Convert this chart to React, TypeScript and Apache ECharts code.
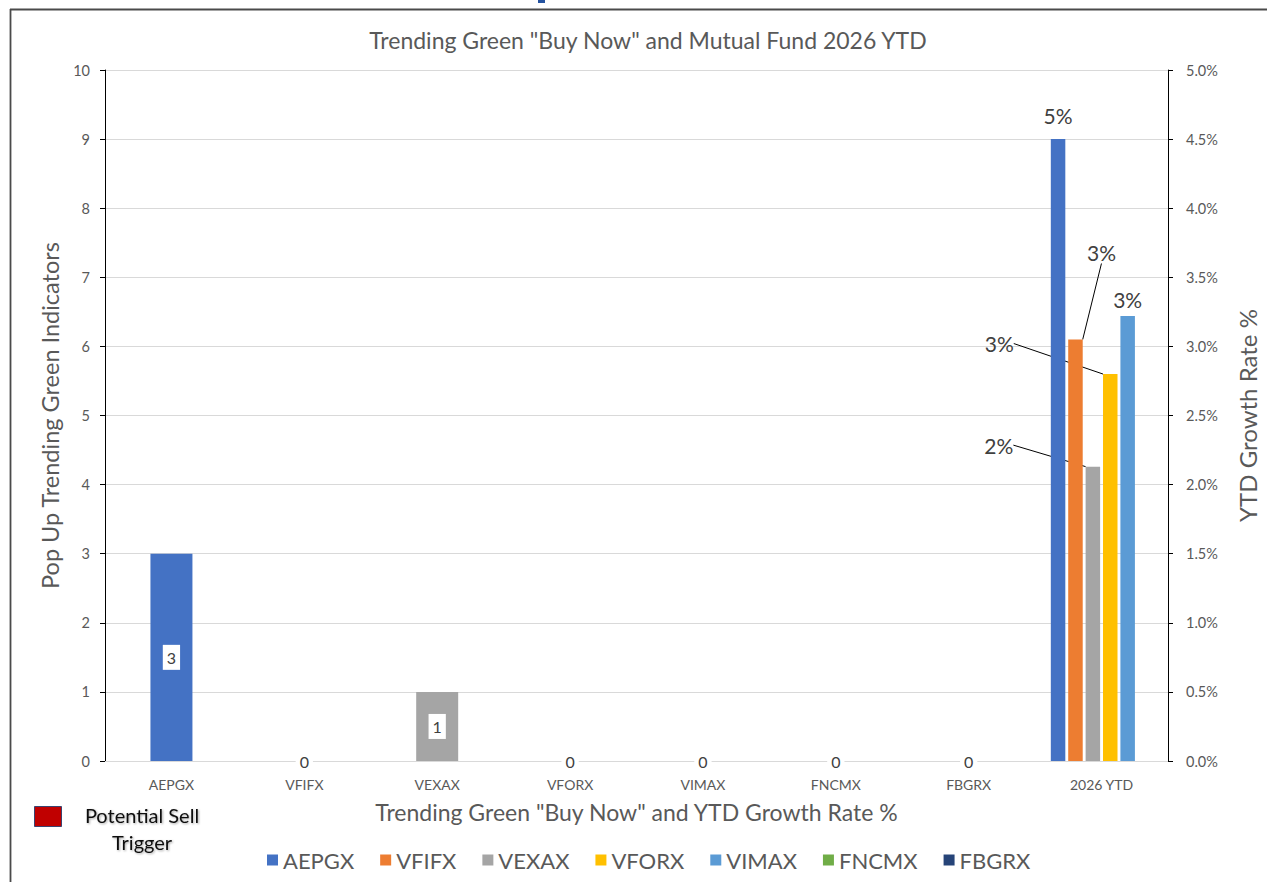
import React, { useEffect, useRef } from "react";
import * as echarts from "echarts";

const categories = ["AEPGX", "VFIFX", "VEXAX", "VFORX", "VIMAX", "FNCMX", "FBGRX", "2026 YTD"];
const funds = ["AEPGX", "VFIFX", "VEXAX", "VFORX", "VIMAX", "FNCMX", "FBGRX"];
const fundColors = ["#4472C4", "#ED7D31", "#A5A5A5", "#FFC000", "#5B9BD5", "#70AD47", "#264478"];
// Trending green indicators per fund (left axis)
const indicators = [3, 0, 1, 0, 0, 0, 0];
// 2026 YTD growth rate % per fund (right axis)
const ytdGrowth = [4.5, 3.05, 2.13, 2.8, 3.22, null, null];
const leftAxis = { min: 0, max: 10, interval: 1 };
const rightAxis = { min: 0, max: 5, interval: 0.5 };

const FONT = "Lato, 'Noto Sans', sans-serif";
const TXT = "#595959";

// label offsets for YTD labels (style only)
const ytdLabelLayout: any[] = [
  null,
  { dx: 26, dy: -71 },
  { dx: -94, dy: -6 },
  { dx: -111, dy: -15 },
  null,
  null,
];
const ytdLabelDistance = [13, 5, 5, 5, 6, 5];

export default function App() {
  const ref = useRef<HTMLDivElement>(null);
  useEffect(() => {
    if (!ref.current) return;
    const chart = echarts.init(ref.current, undefined, { renderer: "svg" });
    const n = categories.length;

    const indicatorSeries: any = {
      name: "Indicators",
      type: "bar",
      xAxisIndex: 0,
      yAxisIndex: 0,
      barWidth: 42,
      barGap: "-100%",
      data: categories.map((c, i) =>
        i < indicators.length ? { value: indicators[i], itemStyle: { color: fundColors[i] } } : "-"
      ),
      label: {
        show: true,
        position: "inside",
        backgroundColor: "#fff",
        padding: [5, 4, 4, 4],
        color: "#404040",
        fontSize: 16,
        fontFamily: FONT,
      },
    };

    const ytdSeries: any[] = [];
    for (let k = 0; k < 6; k++) {
      const v = ytdGrowth[k];
      const s: any = {
        name: funds[k],
        type: "bar",
        xAxisIndex: 1,
        yAxisIndex: 1,
        barWidth: 14.5,
        barGap: "20%",
        itemStyle: { color: fundColors[k] },
        data: categories.map((c, i) => (i === n - 1 && v != null ? v : "-")),
        label: {
          show: true,
          position: "top",
          distance: ytdLabelDistance[k],
          color: "#404040",
          fontSize: 21,
          fontFamily: FONT,
          formatter: (p: any) => Math.round(p.value) + "%",
        },
      };
      if (ytdLabelLayout[k]) {
        s.labelLayout = ytdLabelLayout[k];
        s.labelLine = { show: true, lineStyle: { color: "#000", width: 1 } };
      }
      ytdSeries.push(s);
    }
    const fbgrxSeries: any = {
      name: funds[6],
      type: "bar",
      xAxisIndex: 0,
      yAxisIndex: 0,
      barWidth: 42,
      barGap: "-100%",
      itemStyle: { color: fundColors[6] },
      data: categories.map(() => "-"),
    };

    chart.setOption({
      animation: false,
      textStyle: { fontFamily: FONT },
      title: {
        text: 'Trending Green "Buy Now" and Mutual Fund 2026 YTD',
        left: 643,
        textAlign: "center",
        top: 23,
        textStyle: { fontSize: 23, fontWeight: "normal", color: TXT, fontFamily: FONT },
      },
      grid: { left: 105, right: 99, top: 70, bottom: 121, containLabel: false },
      legend: {
        data: funds,
        bottom: 6,
        left: 262,
        icon: "rect",
        itemWidth: 11,
        itemHeight: 11,
        itemGap: 26,
        textStyle: { fontSize: 22, color: TXT, fontFamily: FONT },
      },
      xAxis: [
        {
          type: "category",
          data: categories,
          axisLine: { lineStyle: { color: "#d9d9d9" } },
          axisTick: { show: false },
          axisLabel: { color: TXT, fontSize: 14, margin: 16, fontFamily: FONT },
          name: 'Trending Green "Buy Now" and YTD Growth Rate %',
          nameLocation: "middle",
          nameGap: 39,
          nameTextStyle: { fontSize: 23, color: TXT, fontFamily: FONT },
        },
        {
          type: "category",
          data: categories,
          show: false,
        },
      ],
      yAxis: [
        {
          type: "value",
          min: leftAxis.min,
          max: leftAxis.max,
          interval: leftAxis.interval,
          axisLine: { show: true, lineStyle: { color: "#000" } },
          axisTick: { show: true, length: 5, lineStyle: { color: "#000" } },
          axisLabel: { color: TXT, fontSize: 14.5, margin: 15, fontFamily: FONT },
          splitLine: { show: true, lineStyle: { color: "#d9d9d9" } },
          name: "Pop Up Trending Green Indicators",
          nameLocation: "middle",
          nameGap: 41,
          nameTextStyle: { fontSize: 23.5, color: TXT, fontFamily: FONT },
        },
        {
          type: "value",
          min: rightAxis.min,
          max: rightAxis.max,
          interval: rightAxis.interval,
          position: "right",
          axisLine: { show: true, lineStyle: { color: "#000" } },
          axisTick: { show: true, length: 5, lineStyle: { color: "#000" } },
          axisLabel: {
            color: TXT,
            fontSize: 14.5,
            margin: 18,
            fontFamily: FONT,
            formatter: (v: number) => v.toFixed(1) + "%",
          },
          splitLine: { show: false },
          name: "YTD Growth Rate %",
          nameLocation: "middle",
          nameGap: 67,
          nameTextStyle: { fontSize: 24, color: TXT, fontFamily: FONT },
        },
      ],
      graphic: [
        { type: "line", shape: { x1: 10, y1: 9.5, x2: 1267, y2: 9.5 }, style: { stroke: "#4a4a4a", lineWidth: 1.8 } },
        { type: "line", shape: { x1: 10.5, y1: 9, x2: 10.5, y2: 882 }, style: { stroke: "#4a4a4a", lineWidth: 1.8 } },
        { type: "rect", shape: { x: 538, y: 0, width: 7, height: 3 }, style: { fill: "#2553a0" } },
        {
          type: "rect",
          shape: { x: 34.5, y: 806.5, width: 27, height: 20 },
          style: { fill: "#C00000", stroke: "#3a4470", lineWidth: 1 },
        },
        {
          type: "text",
          x: 142,
          y: 801,
          style: {
            text: "Potential Sell\nTrigger",
            fill: "#111",
            font: `20px ${FONT}`,
            textAlign: "center",
            lineHeight: 27,
            textShadowColor: "rgba(0,0,0,0.35)",
            textShadowBlur: 2,
            textShadowOffsetX: 1,
            textShadowOffsetY: 1,
          },
        },
      ],
      series: [indicatorSeries, fbgrxSeries, ...ytdSeries],
    });
    return () => chart.dispose();
  }, []);
  return (
    <div
      ref={ref}
      style={{ position: "fixed", left: 0, top: 0, width: 1267, height: 882, background: "#fff" }}
    />
  );
}
